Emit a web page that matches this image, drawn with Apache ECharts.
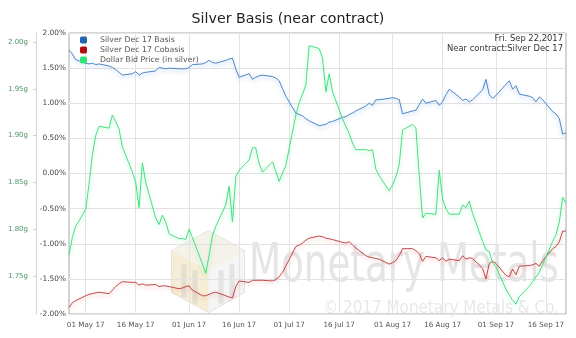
<!DOCTYPE html>
<html>
<head>
<meta charset="utf-8">
<script src="https://cdn.jsdelivr.net/npm/echarts@6/dist/echarts.min.js"></script>
<style>
  html, body { margin: 0; padding: 0; background: #fff; }
  #chart { width: 576px; height: 338px; }
</style>
</head>
<body>
<div id="chart"></div>
<script>
// Trading days covered by the chart
const dates = [
  '2017-04-26','2017-04-27','2017-04-28',
  '2017-05-01','2017-05-02','2017-05-03','2017-05-04','2017-05-05',
  '2017-05-08','2017-05-09','2017-05-10','2017-05-11','2017-05-12',
  '2017-05-15','2017-05-16','2017-05-17','2017-05-18','2017-05-19',
  '2017-05-22','2017-05-23','2017-05-24','2017-05-25','2017-05-26',
  '2017-05-29','2017-05-30','2017-05-31',
  '2017-06-01','2017-06-02',
  '2017-06-05','2017-06-06','2017-06-07','2017-06-08','2017-06-09',
  '2017-06-12','2017-06-13','2017-06-14','2017-06-15','2017-06-16',
  '2017-06-19','2017-06-20','2017-06-21','2017-06-22','2017-06-23',
  '2017-06-26','2017-06-27','2017-06-28','2017-06-29','2017-06-30',
  '2017-07-03','2017-07-04','2017-07-05','2017-07-06','2017-07-07',
  '2017-07-10','2017-07-11','2017-07-12','2017-07-13','2017-07-14',
  '2017-07-17','2017-07-18','2017-07-19','2017-07-20','2017-07-21',
  '2017-07-24','2017-07-25','2017-07-26','2017-07-27','2017-07-28',
  '2017-07-31',
  '2017-08-01','2017-08-02','2017-08-03','2017-08-04',
  '2017-08-07','2017-08-08','2017-08-09','2017-08-10','2017-08-11',
  '2017-08-14','2017-08-15','2017-08-16','2017-08-17','2017-08-18',
  '2017-08-21','2017-08-22','2017-08-23','2017-08-24','2017-08-25',
  '2017-08-28','2017-08-29','2017-08-30','2017-08-31',
  '2017-09-01',
  '2017-09-04','2017-09-05','2017-09-06','2017-09-07','2017-09-08',
  '2017-09-11','2017-09-12','2017-09-13','2017-09-14','2017-09-15',
  '2017-09-18','2017-09-19','2017-09-20','2017-09-21','2017-09-22'
];

// Silver Dec 17 basis, percent
const basis = [
  1.76, 1.70, 1.62,
  1.57, 1.56, 1.57, 1.55, 1.56,
  1.53, 1.51, 1.48, 1.44, 1.40,
  1.42, 1.45, 1.40, 1.43, 1.44,
  1.46, 1.51, 1.50, 1.49, 1.50,
  1.49, 1.49, 1.49,
  1.51, 1.55,
  1.56, 1.58, 1.61, 1.58, 1.57,
  1.61, 1.63, 1.64, 1.49, 1.37,
  1.42, 1.34, 1.37, 1.39, 1.40,
  1.38, 1.36, 1.32, 1.21, 1.10,
  0.86, 0.84, 0.82, 0.78, 0.75,
  0.68, 0.69, 0.70, 0.73, 0.74,
  0.80, 0.81, 0.84, 0.86, 0.89,
  0.96, 1.00, 0.97, 1.05, 1.05,
  1.07,
  1.08, 1.07, 1.05, 0.85,
  0.89, 0.90, 0.98, 1.06, 1.00,
  1.04, 0.97, 1.02, 1.12, 1.20,
  1.09, 1.04, 1.06, 1.02, 1.05,
  1.19, 1.34, 1.12, 1.07,
  1.11,
  1.27, 1.32, 1.20, 1.25, 1.13,
  1.10, 1.08, 1.02, 1.09, 1.05,
  0.88, 0.85, 0.78, 0.56, 0.58
];

// Silver Dec 17 cobasis, percent
const cobasis = [
  -1.91, -1.84, -1.81,
  -1.74, -1.72, -1.71, -1.70, -1.69,
  -1.71, -1.66, -1.61, -1.57, -1.54,
  -1.55, -1.55, -1.59, -1.57, -1.59,
  -1.58, -1.61, -1.60, -1.60, -1.61,
  -1.64, -1.63, -1.61,
  -1.60, -1.66,
  -1.74, -1.74, -1.72, -1.70, -1.69,
  -1.74, -1.76, -1.77, -1.61, -1.53,
  -1.55, -1.52, -1.52, -1.52, -1.52,
  -1.53, -1.51, -1.47, -1.41, -1.32,
  -1.04, -1.02, -0.99, -0.95, -0.92,
  -0.89, -0.90, -0.92, -0.93, -0.94,
  -0.98, -0.99, -0.97, -1.02, -1.06,
  -1.17, -1.19, -1.20, -1.21, -1.22,
  -1.29,
  -1.27, -1.24, -1.17, -1.07,
  -1.07, -1.10, -1.14, -1.25, -1.18,
  -1.20, -1.24, -1.20, -1.25, -1.22,
  -1.24, -1.17, -1.22, -1.20, -1.21,
  -1.35, -1.50, -1.28, -1.25,
  -1.28,
  -1.45, -1.47, -1.36, -1.44, -1.32,
  -1.31, -1.30, -1.28, -1.32, -1.24,
  -1.07, -1.04, -0.97, -0.82, -0.82
];

// Dollar bid price, grams of silver
const dollarBid = [
  1.773, 1.791, 1.803,
  1.821, 1.848, 1.879, 1.900, 1.910,
  1.908, 1.922, 1.915, 1.907, 1.888,
  1.861, 1.850, 1.823, 1.871, 1.850,
  1.812, 1.805, 1.815, 1.808, 1.795,
  1.790, 1.790, 1.789,
  1.800, 1.791,
  1.763, 1.753, 1.772, 1.793, 1.803,
  1.826, 1.846, 1.808, 1.856, 1.863,
  1.874, 1.887, 1.887, 1.870, 1.861,
  1.872, 1.862, 1.851, 1.860, 1.868,
  1.922, 1.935, 1.944, 1.954, 1.996,
  1.993, 1.983, 1.947, 1.966, 1.947,
  1.918, 1.910, 1.902, 1.892, 1.885,
  1.885, 1.884, 1.885, 1.864, 1.857,
  1.841,
  1.847, 1.856, 1.869, 1.906,
  1.912, 1.908, 1.858, 1.812, 1.817,
  1.816, 1.863, 1.832, 1.822, 1.816,
  1.816, 1.826, 1.823, 1.830, 1.817,
  1.787, 1.778, 1.776, 1.764,
  1.760,
  1.736, 1.730, 1.724, 1.720, 1.728,
  1.739, 1.744, 1.749, 1.754, 1.762,
  1.787, 1.794, 1.808, 1.834, 1.828
];

// Axis ticks
const dateTicks = [
  '2017-05-01','2017-05-16','2017-06-01','2017-06-16','2017-07-01',
  '2017-07-16','2017-08-01','2017-08-16','2017-09-01','2017-09-16'
];
const gramTicks = [1.75, 1.80, 1.85, 1.90, 1.95, 2.00];

const seriesNames = ['Silver Dec 17 Basis', 'Silver Dec 17 Cobasis', 'Dollar Bid Price (in silver)'];
const MONTHS = ['Jan','Feb','Mar','Apr','May','Jun','Jul','Aug','Sep','Oct','Nov','Dec'];
const FONT = 'DejaVu Sans';

function ts(s) {
  const p = s.split('-').map(Number);
  return new Date(p[0], p[1] - 1, p[2]).getTime();
}
function fmtDate(v) {
  const d = new Date(v);
  const dd = String(d.getDate()).padStart(2, '0');
  return dd + ' ' + MONTHS[d.getMonth()] + ' ' + String(d.getFullYear()).slice(2);
}
function pairs(vals) {
  return dates.map((d, i) => [ts(d), vals[i]]);
}
// horizontal stretch so a watermark string spans a given width
function fitScale(text, size, weight, width) {
  const c = document.createElement('canvas').getContext('2d');
  c.font = weight + ' ' + size + 'px "' + FONT + '"';
  return width / c.measureText(text).width;
}

const chart = echarts.init(document.getElementById('chart'), null, { renderer: 'canvas' });

function glowLine(color, glow) {
  return {
    color: color, width: 1,
    shadowColor: glow, shadowBlur: 4, shadowOffsetY: 2
  };
}

const wmText = 'Monetary Metals';
const wmSize = 54;
const cpText = '\u00A9 2017 Monetary Metals & Co.';
const cpSize = 18;
const dateTickValues = dateTicks.map(ts);

const option = {
  backgroundColor: '#fff',
  animation: false,
  textStyle: { fontFamily: FONT },
  title: {
    text: 'Silver Basis (near contract)',
    left: 'center', top: 7,
    textStyle: { fontFamily: FONT, fontSize: 14.2, fontWeight: 'normal', color: '#222' }
  },
  legend: {
    orient: 'vertical', left: 80, top: 36, padding: 0,
    itemWidth: 7, itemHeight: 7, itemGap: 2,
    icon: 'roundRect',
    data: seriesNames,
    textStyle: { fontFamily: FONT, fontSize: 7.8, color: '#555', lineHeight: 8, padding: [0, 0, 0, 8] }
  },
  grid: {
    left: 69, right: 10, top: 33, bottom: 24,
    show: true, borderColor: '#aaa', borderWidth: 1, backgroundColor: 'transparent'
  },
  xAxis: {
    type: 'value',
    min: ts(dates[0]),
    max: ts(dates[dates.length - 1]),
    axisLine: { show: false },
    axisTick: { show: false, customValues: dateTickValues },
    axisLabel: {
      customValues: dateTickValues,
      formatter: fmtDate,
      fontFamily: FONT, fontSize: 7.2, color: '#555', margin: 8,
      hideOverlap: false
    },
    splitLine: { show: true, lineStyle: { color: '#e3e3e3', width: 1 } }
  },
  yAxis: [
    {
      type: 'value', min: -2, max: 2, interval: 0.5, position: 'left',
      axisLine: { show: false }, axisTick: { show: false },
      axisLabel: {
        formatter: v => v.toFixed(2) + '%',
        fontFamily: FONT, fontSize: 7.4, color: '#444', margin: 3
      },
      splitLine: { show: true, lineStyle: { color: '#e3e3e3', width: 1 } }
    },
    {
      type: 'value', min: 1.7094, max: 2.0096, position: 'left', offset: 33,
      axisLine: { show: true, lineStyle: { color: '#d4d4d4' } },
      axisTick: { show: true, customValues: gramTicks, length: 3, lineStyle: { color: '#d4d4d4' } },
      axisLabel: {
        customValues: gramTicks,
        formatter: v => v.toFixed(2) + 'g',
        fontFamily: FONT, fontSize: 7, color: '#4f9366', margin: 8
      },
      splitLine: { show: false }
    }
  ],
  graphic: [
    // watermark logo
    {
      type: 'group', left: 171, top: 230, z: 1, silent: true,
      children: [
        { type: 'polygon', shape: { points: [[37,0],[73,20],[73,62],[37,82],[0,62],[0,20]] },
          style: { fill: 'rgba(235,235,235,0.5)', stroke: 'rgba(215,215,215,0.7)', lineWidth: 1 } },
        { type: 'polygon', shape: { points: [[0,20],[37,40],[37,82],[0,62]] },
          style: { fill: 'rgba(246,226,170,0.42)' } },
        { type: 'polygon', shape: { points: [[37,0],[73,20],[37,40],[0,20]] },
          style: { fill: 'rgba(245,240,225,0.6)' } },
        { type: 'rect', shape: { x: 10, y: 34, width: 5, height: 33 }, style: { fill: 'rgba(200,200,200,0.4)' } },
        { type: 'rect', shape: { x: 21, y: 40, width: 5, height: 33 }, style: { fill: 'rgba(200,200,200,0.4)' } },
        { type: 'rect', shape: { x: 47, y: 40, width: 5, height: 33 }, style: { fill: 'rgba(200,200,200,0.4)' } },
        { type: 'rect', shape: { x: 58, y: 34, width: 5, height: 33 }, style: { fill: 'rgba(200,200,200,0.4)' } }
      ]
    },
    {
      type: 'text', left: 249, top: 240, z: 1, silent: true,
      scaleX: fitScale(wmText, wmSize, 'normal', 310), originX: 0,
      style: { text: wmText, fontFamily: FONT, fontSize: wmSize, fontWeight: 'normal', fill: '#e5e5e5' }
    },
    {
      type: 'text', left: 323, top: 299, z: 1, silent: true,
      scaleX: fitScale(cpText, cpSize, 'normal', 236), originX: 0,
      style: { text: cpText, fontFamily: FONT, fontSize: cpSize, fontWeight: 'normal', fill: '#e8e8e8' }
    },
    // date stamp, upper right
    {
      type: 'text', right: 13, top: 35, z: 10, silent: true,
      style: { text: 'Fri. Sep 22,2017', fontFamily: FONT, fontSize: 8.4, fill: '#333', align: 'right' }
    },
    {
      type: 'text', right: 13, top: 45, z: 10, silent: true,
      style: { text: 'Near contract:Silver Dec 17', fontFamily: FONT, fontSize: 8.4, fill: '#333', align: 'right' }
    }
  ],
  series: [
    {
      name: seriesNames[0], type: 'line', yAxisIndex: 0, showSymbol: false, z: 3,
      itemStyle: { color: '#2262b0' },
      lineStyle: glowLine('#4f86c6', 'rgba(90,150,220,0.55)'),
      data: pairs(basis)
    },
    {
      name: seriesNames[1], type: 'line', yAxisIndex: 0, showSymbol: false, z: 3,
      itemStyle: { color: '#b20c0c' },
      lineStyle: glowLine('#c24848', 'rgba(235,120,120,0.55)'),
      data: pairs(cobasis)
    },
    {
      name: seriesNames[2], type: 'line', yAxisIndex: 1, showSymbol: false, z: 3,
      itemStyle: { color: '#2ee27a' },
      lineStyle: glowLine('#45e083', 'rgba(90,235,140,0.5)'),
      data: pairs(dollarBid)
    }
  ]
};

chart.setOption(option);
</script>
</body>
</html>
